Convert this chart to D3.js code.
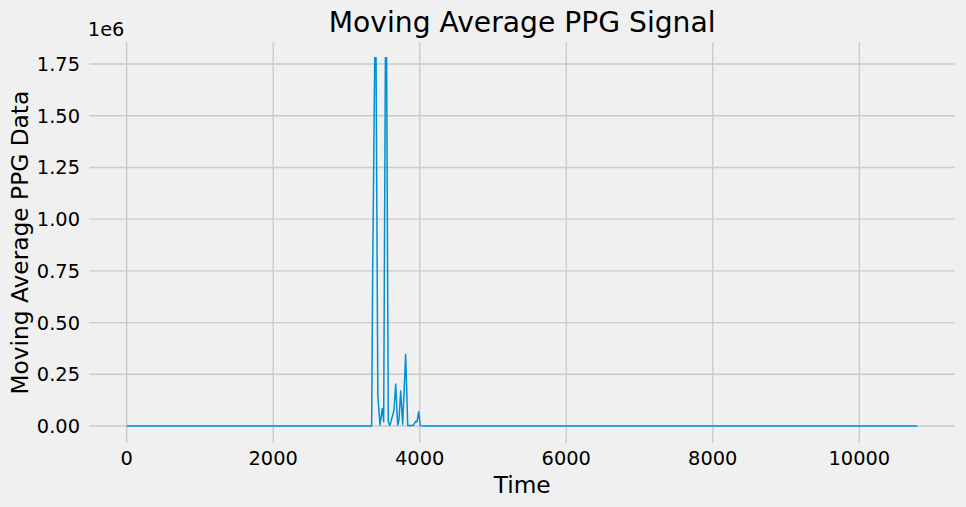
<!DOCTYPE html>
<html>
<head>
<meta charset="utf-8">
<script src="https://cdn.jsdelivr.net/npm/d3@7"></script>
<style>
  html, body { margin: 0; padding: 0; background: #f0f0f0; }
  svg { display: block; font-family: "DejaVu Sans", sans-serif; }
</style>
</head>
<body>
<svg id="chart" width="966" height="507"></svg>
<script>
// moving average PPG signal, breakpoints
var times = [0, 3344, 3358, 3386, 3404, 3428, 3458, 3489, 3508, 3531, 3548, 3571, 3594, 3625, 3649, 3672,
    3699, 3717, 3740, 3767, 3808, 3836, 3912, 3945, 3963, 3986, 4008, 4072, 10792];
var values = [0, 0, 754000, 1780000, 1780000, 150000, 5000, 85000, 21000, 1780000, 1780000, 20000, 3000, 45000, 77000, 203000,
    5000, 29000, 169000, 8000, 346000, 3000, 3000, 23000, 20000, 69000, 2000, 0, 0];

var xTicks = [0, 2000, 4000, 6000, 8000, 10000];
var yTicks = [0, 250000, 500000, 750000, 1000000, 1250000, 1500000, 1750000];

var data = times.map((t, i) => ({t: t, v: values[i]}));

// plot area (window.top is taken, so plain names)
var plotLeft = 89.3, plotRight = 955, plotTop = 42.3, plotBottom = 443;

var svg = d3.select("#chart");

var x = d3.scaleLinear()
    .domain([-510, 11306])
    .range([plotLeft, plotRight]);

var y = d3.scaleLinear()
    .domain([-82000, 1855000])
    .range([plotBottom, plotTop]);

svg.append("rect")
    .attr("width", 966)
    .attr("height", 507)
    .attr("fill", "#f0f0f0");

// grid
svg.append("g")
    .attr("stroke", "#cbcbcb")
    .attr("stroke-width", 1.4)
    .selectAll("line")
    .data(xTicks)
    .join("line")
    .attr("x1", d => x(d))
    .attr("x2", d => x(d))
    .attr("y1", plotTop)
    .attr("y2", plotBottom);

svg.append("g")
    .attr("stroke", "#cbcbcb")
    .attr("stroke-width", 1.4)
    .selectAll("line")
    .data(yTicks)
    .join("line")
    .attr("x1", plotLeft)
    .attr("x2", plotRight)
    .attr("y1", d => y(d))
    .attr("y2", d => y(d));

// tick labels
svg.append("g")
    .selectAll("text")
    .data(xTicks)
    .join("text")
    .attr("x", d => x(d))
    .attr("y", 465)
    .attr("text-anchor", "middle")
    .style("font-size", "19.4px")
    .attr("fill", "#000")
    .text(d => d);

svg.append("g")
    .selectAll("text")
    .data(yTicks)
    .join("text")
    .attr("x", 80)
    .attr("y", d => y(d))
    .attr("dy", "0.36em")
    .attr("text-anchor", "end")
    .style("font-size", "19.4px")
    .attr("fill", "#000")
    .text(d => (d / 1e6).toFixed(2));

svg.append("text")
    .attr("x", plotLeft - 1.5)
    .attr("y", 35.7)
    .style("font-size", "19.4px")
    .attr("fill", "#000")
    .text("1e6");

// the signal
var line = d3.line()
    .x(d => x(d.t))
    .y(d => y(d.v));

svg.append("path")
    .datum(data)
    .attr("fill", "none")
    .attr("stroke", "#008fd5")
    .attr("stroke-width", 1.5)
    .attr("stroke-linejoin", "round")
    .attr("d", line);

// labels
svg.append("text")
    .attr("x", (plotLeft + plotRight) / 2)
    .attr("y", 32.3)
    .attr("text-anchor", "middle")
    .style("font-size", "28.2px")
    .attr("fill", "#000")
    .text("Moving Average PPG Signal");

svg.append("text")
    .attr("x", (plotLeft + plotRight) / 2)
    .attr("y", 492.7)
    .attr("text-anchor", "middle")
    .style("font-size", "23.3px")
    .attr("fill", "#000")
    .text("Time");

svg.append("text")
    .attr("transform", `translate(28,${(plotTop + plotBottom) / 2}) rotate(-90)`)
    .attr("text-anchor", "middle")
    .style("font-size", "23.3px")
    .attr("fill", "#000")
    .text("Moving Average PPG Data");
</script>
</body>
</html>
